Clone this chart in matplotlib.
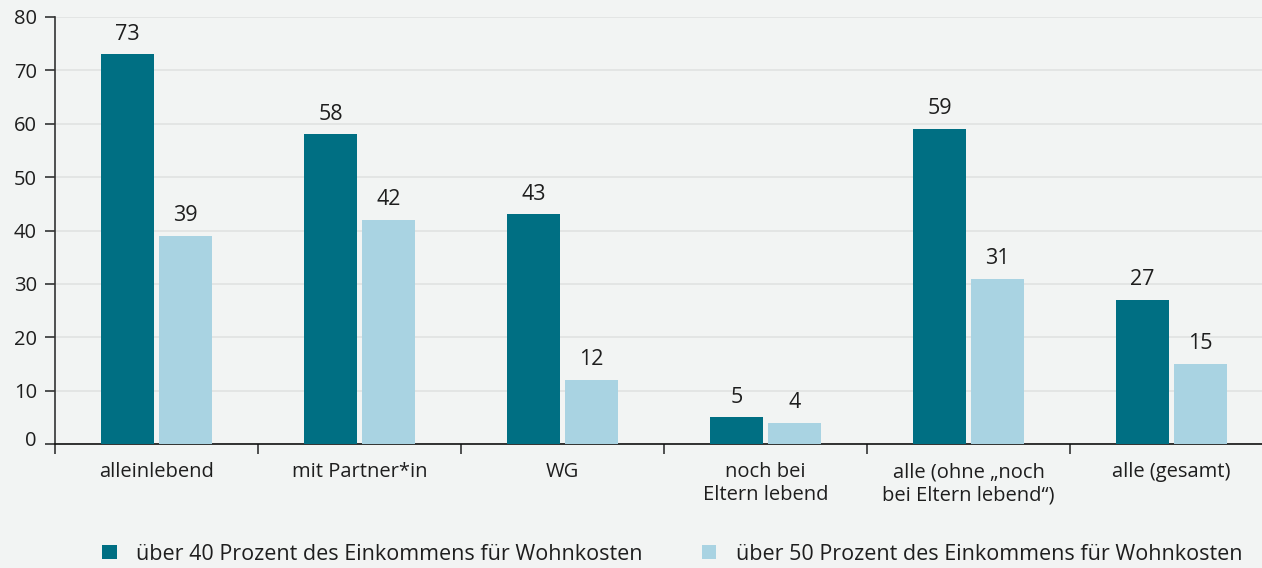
import matplotlib
matplotlib.use("Agg")
import matplotlib.pyplot as plt
import matplotlib.transforms as mtransforms
import numpy as np

plt.rcParams['font.family'] = ['Open Sans', 'DejaVu Sans']

categories = ["alleinlebend", "mit Partner*in", "WG", "noch bei\nEltern lebend",
              "alle (ohne „noch\nbei Eltern lebend“)", "alle (gesamt)"]
series_names = ["über 40 Prozent des Einkommens für Wohnkosten",
                "über 50 Prozent des Einkommens für Wohnkosten"]
over_40 = [73, 58, 43, 5, 59, 27]
over_50 = [39, 42, 12, 4, 31, 15]
y_ticks = [0, 10, 20, 30, 40, 50, 60, 70, 80]

bg = "#F2F4F3"
dark = "#006F83"
light = "#A9D3E2"
text_col = "#1E1E1E"

W, H = 1262, 568
fig = plt.figure(figsize=(W / 100, H / 100), dpi=100, facecolor=bg)
ax = fig.add_axes([55 / W, 124 / H, 1218 / W, 427 / H], facecolor=bg)

x = np.arange(len(categories))
bw = 0.26
off = 0.143
b1 = ax.bar(x - off, over_40, bw, color=dark, label=series_names[0], zorder=3)
b2 = ax.bar(x + off, over_50, bw, color=light, label=series_names[1], zorder=3)

for bars, vals in ((b1, over_40), (b2, over_50)):
    for rect, v in zip(bars, vals):
        ax.annotate(f"{v}", (rect.get_x() + rect.get_width() / 2, v),
                    xytext=(0, 7), textcoords="offset points",
                    ha="center", va="bottom", fontsize=15.5, color=text_col)

ax.set_xlim(-0.5, len(categories) - 0.5)
ax.set_ylim(0, 80)
ax.set_yticks(y_ticks)
ax.set_yticklabels([str(t) for t in y_ticks], fontsize=14.5, color=text_col)
ax.yaxis.grid(True, color="#E1E3E2", linewidth=1.2, zorder=0)
ax.set_axisbelow(True)

# category boundaries carry the ticks, labels sit in the middle
ax.set_xticks(np.arange(len(categories) + 1) - 0.5)
ax.set_xticklabels([])
ax.set_xticks(x, minor=True)
ax.set_xticklabels(categories, minor=True, fontsize=14.5, color=text_col,
                   linespacing=1.2)
ax.tick_params(axis="x", which="major", length=7, width=1.2, color="#333333")
ax.tick_params(axis="x", which="minor", length=0, pad=13)
ax.tick_params(axis="y", length=7, width=1.2, color="#333333", pad=6)

for s in ("top", "right"):
    ax.spines[s].set_visible(False)
ax.spines["left"].set_color("#333333")
ax.spines["left"].set_linewidth(1.2)
ax.spines["bottom"].set_color("#111111")
ax.spines["bottom"].set_linewidth(1.2)

# lift the zero label a little off the baseline
zero_lbl = ax.get_yticklabels()[0]
zero_lbl.set_transform(zero_lbl.get_transform() +
                       mtransforms.ScaledTranslation(0, 6 / 100, fig.dpi_scale_trans))

fig.legend(handles=[b1, b2], labels=series_names, loc="lower left",
           bbox_to_anchor=(83 / W, -16 / H), ncol=2, frameon=False,
           fontsize=15.5, handlelength=0.66, handleheight=0.66,
           handletextpad=0.92, columnspacing=2.75, labelcolor=text_col)

fig.savefig("out.png", dpi=100, facecolor=bg)
